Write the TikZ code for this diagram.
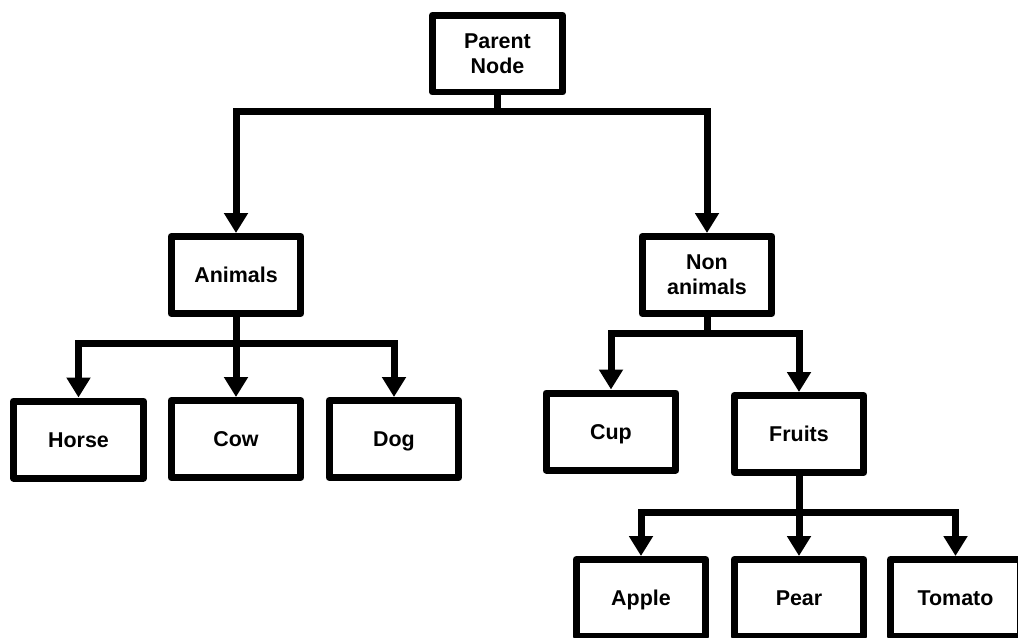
\documentclass[tikz,border=0pt]{standalone}
\usepackage{fontspec}
\setmainfont{Liberation Sans}
\usetikzlibrary{arrows.meta}

\begin{document}
\begin{tikzpicture}[x=0.02cm,y=-0.02cm,
    box/.style={draw,line width=0.14cm,line join=round,minimum width=2.6cm,minimum height=1.54cm,
        align=center,font=\bfseries\fontsize{12.2}{14}\selectfont},
    single/.style={box,text height=9pt,text depth=0.4pt},
    arr/.style={line width=0.14cm,-{Triangle[width=0.46cm,length=0.4cm]}}]
    \useasboundingbox (0,0) rectangle (1018,637);
    \clip (0,0) rectangle (1018,637);
    \node[box] (parent) at (497.5,53.5) {Parent\\Node};
    \node[single] (animals) at (236,275) {Animals};
    \node[box] (nonanimals) at (707,275) {Non\\animals};
    \node[single] (horse) at (78.5,439.5) {Horse};
    \node[single] (cow) at (236,439) {Cow};
    \node[single] (dog) at (394,439) {Dog};
    \node[single] (cup) at (611,431.5) {Cup};
    \node[single] (fruits) at (799,434) {Fruits};
    \node[single] (apple) at (641,598) {Apple};
    \node[single] (pear) at (799,598) {Pear};
    \node[single] (tomato) at (955.5,598) {Tomato};
    % top level
    \draw[arr] (parent.south) -- ++(0,16) -| (animals.north);
    \draw[arr] (parent.south) -- ++(0,16) -| (nonanimals.north);
    % animals
    \draw[arr] (animals.south) -- (cow.north);
    \draw[arr] (animals.south) -- ++(0,26) -| (horse.north);
    \draw[arr] (animals.south) -- ++(0,26) -| (dog.north);
    % non animals
    \draw[arr] (nonanimals.south) -- ++(0,16) -| (cup.north);
    \draw[arr] (nonanimals.south) -- ++(0,16) -| (fruits.north);
    % fruits
    \draw[arr] (fruits.south) -- (pear.north);
    \draw[arr] (fruits.south) -- ++(0,36) -| (apple.north);
    \draw[arr] (fruits.south) -- ++(0,36) -| (tomato.north);
\end{tikzpicture}
\end{document}
